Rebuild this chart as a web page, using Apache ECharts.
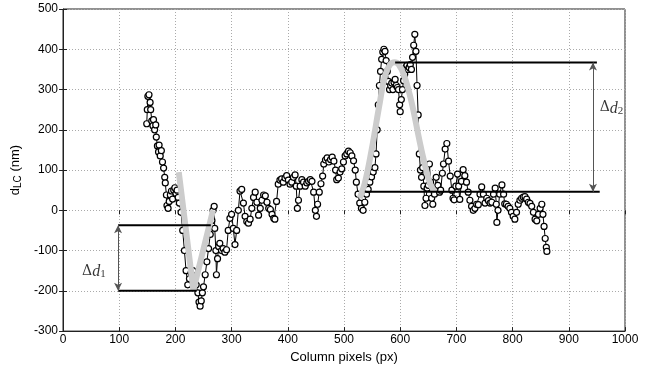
<!DOCTYPE html>
<html>
<head>
<meta charset="utf-8">
<script src="https://cdn.jsdelivr.net/npm/echarts@6/dist/echarts.min.js"></script>
<style>
  html, body { margin: 0; padding: 0; background: #fff; }
  #chart { width: 650px; height: 369px; }
</style>
</head>
<body>
<div id="chart"></div>
<script>
var colPx = [149,150,151,153,155,156,158,160,161,163,165,166,168,170,171,173,175,177,179,181,182,184,185,187,189,191,193,195,197,199,201,203,205,207,
  210,213,216,219,222,225,228,231,234,237,240,242,244,246,248,250,253,256,259,262,265,267,269,270,272,273,275,277,279,282,285,288,291,294,297,300,
  303,306,309,312,315,318,321,324,327,330,333,336,339,342,345,348,351,354,357,360,363,366,369,372,375,377,380,383,386,389,392,395,398,401,404,407,
  410,413,415,417,419,422,425,428,431,434,437,440,443,446,449,451,453,456,459,462,464,467,470,473,476,479,482,485,487,490,493,496,499,502,505,508,
  511,514,517,520,522,525,528,531,534,537,540,543,546,549,552,555,557,559,561,563,565,567,569,571,573,575,577,579,581,583,585,587,589,591,593,595,
  597,599,600,602,604,606,608,610,612,614,616,618,620,622,624,626,628,630,632,634,636,638,640,642,644,646,648,650,652,654,656,658,661,664,667,670,
  672,675,677,680,683,686,689,692,694,696,699,702,704,706,709,712,715,718,721,724,727,730,733,736,739,742,745,748,751,754,757,760,763,766,769,771,
  772,774,777,781,784,786,789,792,795,798,801,804,807,810,813,816,819,822,825,828,831,834,837,840,843,846,849,852,854,856,858,860,861];
var dLC = [215,250,283,287,268,250,222,210,225,200,212,182,160,145,162,135,148,120,105,82,68,38,12,5,22,38,48,28,50,56,42,50,32,18,
  -5,-50,-100,-150,-185,-170,-155,-150,-165,-185,-205,-228,-238,-225,-205,-190,-160,-128,-95,-60,-25,0,10,-45,-100,-160,-120,-90,-82,-100,-95,-104,-98,-50,-20,-10,
  -45,-85,-50,0,48,52,18,-15,-28,-32,-22,5,32,45,20,-12,5,25,38,36,20,5,2,-10,-20,-22,22,65,75,78,70,80,86,75,65,70,
  82,88,60,5,25,60,76,70,60,68,72,76,72,45,0,-15,15,45,66,85,115,125,130,120,126,132,122,100,76,80,95,103,120,135,140,147,
  143,135,123,100,70,40,18,5,0,20,40,52,70,83,95,106,140,200,262,310,345,375,393,400,395,372,345,320,300,310,316,300,318,325,310,305,
  300,262,245,275,300,322,338,355,360,350,355,362,350,380,410,437,395,310,237,140,100,82,106,60,12,30,55,62,115,70,30,15,40,82,62,45,
  50,92,115,152,166,122,85,50,30,26,60,90,60,27,72,101,86,70,45,25,10,0,5,15,14,40,58,40,18,30,24,18,20,40,55,15,
  -30,0,40,63,40,16,15,10,5,-5,-15,-22,-5,15,25,30,33,34,28,20,17,10,-5,-22,-26,-10,5,15,-10,-40,-70,-92,-102];

// grey fitted curves
var fitDipX = [206,232,267];
var fitDipY = [95,-198,0];
var fitBumpX = [528,537,549,564,573,582,590,597,607,620,638,653,662];
var fitBumpY = [30,67,149,270,335,362,368,363,335,270,149,67,46];

// level lines for the two step heights
var d1TopX = [98,263], d1TopY = -37;
var d1BotX = [98,238], d1BotY = -200;
var d2TopX = [591,950], d2TopY = 367;
var d2BotX = [537,955], d2BotY = 46;
var arrowX = [98,943];

var xTicks = [0,1000,100];
var yTicks = [-300,500,100];

function pairs(xs, ys) {
  var out = [];
  for (var i = 0; i < xs.length; i++) out.push([xs[i], Array.isArray(ys) ? ys[i] : ys]);
  return out;
}

var fontFam = '"Liberation Sans", Arial, Helvetica, sans-serif';
var chart = echarts.init(document.getElementById('chart'), null, {renderer: 'canvas'});

var levelStyle = {color: '#000', width: 2};
function levelSeries(xs, y) {
  return {type: 'line', data: pairs(xs, y), symbol: 'none', lineStyle: levelStyle, z: 4, silent: true};
}

var deltaRich = {
  g: {fontFamily: '"DejaVu Serif", "Liberation Serif", serif', fontSize: 14, color: '#000', verticalAlign: 'top', lineHeight: 16},
  i: {fontFamily: '"Liberation Serif", "DejaVu Serif", serif', fontStyle: 'italic', fontSize: 16, color: '#000', verticalAlign: 'top', lineHeight: 16},
  s: {fontFamily: '"Liberation Serif", serif', fontSize: 11, color: '#000', verticalAlign: 'bottom', lineHeight: 11, padding: [9, 0, 0, 0]}
};

chart.setOption({
  animation: false,
  grid: {left: 63, right: 25, top: 9, bottom: 32, show: true, borderColor: '#222', borderWidth: 1},
  xAxis: [{
    type: 'value', min: xTicks[0], max: xTicks[1], interval: xTicks[2],
    name: 'Column pixels (px)', nameLocation: 'middle', nameGap: 15,
    nameTextStyle: {fontFamily: fontFam, fontSize: 13, color: '#000'},
    axisLine: {show: true, onZero: false, lineStyle: {color: '#222'}},
    axisTick: {show: true, inside: true, length: 4, lineStyle: {color: '#222'}},
    axisLabel: {fontFamily: fontFam, fontSize: 12, color: '#000', margin: 3,
      formatter: function (v) { return String(v); }},
    splitLine: {show: true, lineStyle: {color: '#aaa', type: [1, 2], width: 1}}
  }, {
    type: 'value', position: 'top', min: xTicks[0], max: xTicks[1], interval: xTicks[2],
    axisLine: {show: false}, axisLabel: {show: false}, splitLine: {show: false},
    axisTick: {show: true, inside: true, length: 4, lineStyle: {color: '#222'}}
  }],
  yAxis: [{
    type: 'value', min: yTicks[0], max: yTicks[1], interval: yTicks[2],
    name: 'd{s|LC} (nm)', nameLocation: 'middle', nameGap: 32,
    nameTextStyle: {fontFamily: fontFam, fontSize: 13, color: '#000',
      rich: {s: {fontFamily: fontFam, fontSize: 10, color: '#000', verticalAlign: 'bottom', padding: [6, 0, 0, 0]}}},
    axisLine: {show: true, onZero: false, lineStyle: {color: '#222'}},
    axisTick: {show: true, inside: true, length: 4, lineStyle: {color: '#222'}},
    axisLabel: {fontFamily: fontFam, fontSize: 12, color: '#000', margin: 5},
    splitLine: {show: true, lineStyle: {color: '#aaa', type: [1, 2], width: 1}}
  }, {
    type: 'value', position: 'right', min: yTicks[0], max: yTicks[1], interval: yTicks[2],
    axisLine: {show: false}, axisLabel: {show: false}, splitLine: {show: false},
    axisTick: {show: true, inside: true, length: 4, lineStyle: {color: '#222'}}
  }],
  series: [
    {
      type: 'line', data: pairs(colPx, dLC), z: 2,
      symbol: 'circle', symbolSize: 6, showAllSymbol: true,
      lineStyle: {color: '#000', width: 1},
      itemStyle: {color: '#fff', borderColor: '#000', borderWidth: 1.2}
    },
    {type: 'line', data: pairs(fitDipX, fitDipY), symbol: 'none', z: 3,
      lineStyle: {color: '#cccccc', width: 6}},
    {type: 'line', data: pairs(fitBumpX, fitBumpY), symbol: 'none', smooth: 0.4, z: 3,
      lineStyle: {color: '#cccccc', width: 6}},
    levelSeries(d1TopX, d1TopY),
    levelSeries(d1BotX, d1BotY),
    levelSeries(d2TopX, d2TopY),
    levelSeries(d2BotX, d2BotY),
    {
      type: 'line', data: [], z: 5,
      markLine: {
        silent: true, symbol: ['arrow', 'arrow'], symbolSize: [6, 8],
        label: {show: false},
        lineStyle: {color: '#555', width: 1, type: 'solid'},
        data: [
          [{coord: [arrowX[0], d1TopY]}, {coord: [arrowX[0], d1BotY]}],
          [{coord: [arrowX[1], d2TopY]}, {coord: [arrowX[1], d2BotY]}]
        ]
      }
    },
    {
      type: 'scatter', symbolSize: 0, z: 6, silent: true,
      data: [
        {value: [55, -153], label: {formatter: '{g|Δ}{i|d}{s|1}'}},
        {value: [976, 253], label: {formatter: '{g|Δ}{i|d}{s|2}'}}
      ],
      label: {show: true, position: 'inside', rich: deltaRich}
    }
  ]
});
</script>
</body>
</html>
